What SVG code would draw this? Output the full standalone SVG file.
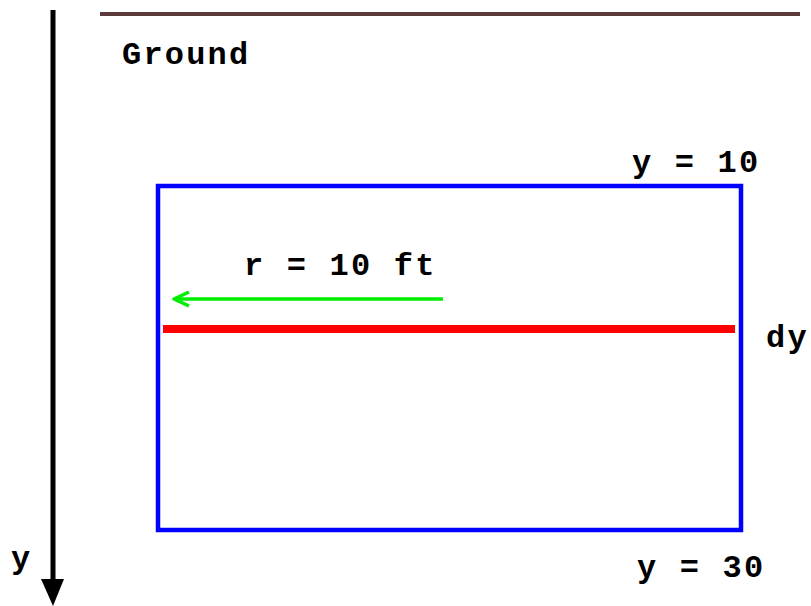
<svg xmlns="http://www.w3.org/2000/svg" width="811" height="606" viewBox="0 0 811 606">
<style>
.t{font-family:"Liberation Mono","Courier New",monospace;font-weight:bold;font-size:32px;fill:#000;letter-spacing:2.2px}
</style>
<defs>
<marker id="gh" markerWidth="20" markerHeight="20" refX="18" refY="10" orient="auto" markerUnits="userSpaceOnUse">
<path d="M3,3 L18,10 L3,17" fill="none" stroke="#00ee00" stroke-width="3.5" stroke-linejoin="round"/>
</marker>
</defs>
<rect width="811" height="606" fill="#fff"/>
<g id="ground">
<line x1="100" y1="14" x2="800" y2="14" stroke="#5a3a3a" stroke-width="4"/>
<text class="t" x="122" y="64">Ground</text>
</g>
<g id="axis">
<line x1="53" y1="10" x2="53" y2="582" stroke="#000" stroke-width="5"/>
<polygon points="41,579 64,579 53,606" fill="#000"/>
<text class="t" x="11" y="568">y</text>
</g>
<g id="region">
<rect x="158" y="186" width="583" height="344" fill="none" stroke="#0000ff" stroke-width="4.5"/>
<text class="t" x="632" y="172">y = 10</text>
<text class="t" x="637" y="577">y = 30</text>
</g>
<g id="slice">
<line x1="163" y1="329" x2="735" y2="329" stroke="#ff0000" stroke-width="8"/>
<text class="t" x="766" y="347">dy</text>
</g>
<g id="connectors">
<line x1="443" y1="299" x2="174" y2="299" stroke="#00ee00" stroke-width="3.5" marker-end="url(#gh)"/>
<text class="t" x="244" y="275">r = 10 ft</text>
</g>
</svg>
